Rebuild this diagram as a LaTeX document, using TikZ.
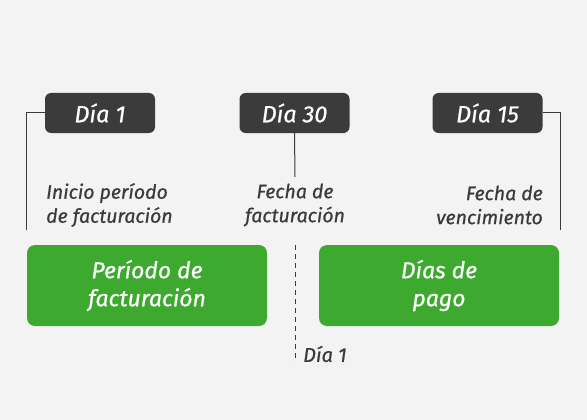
\documentclass[tikz,border=0pt]{standalone}
\usepackage{fontspec}
\setmainfont{Fira Sans}
\newfontfamily\medfont{Fira Sans}[FakeBold=0.7]
\usepackage{tikz}
\usepackage{xcolor}
\usetikzlibrary{positioning,calc}

\definecolor{bggray}{HTML}{F3F3F3}
\definecolor{darkbox}{HTML}{3B3B3B}
\definecolor{txtgray}{HTML}{3A3A3A}
\definecolor{phasegreen}{HTML}{3DAA2F}

\begin{document}
\begin{tikzpicture}[
          x=1pt, y=-1pt,
          daybox/.style={draw=none, fill=darkbox, rounded corners=6pt, minimum width=110pt,
                         minimum height=40pt, text=white, font=\fontsize{23.5}{27}\medfont\itshape},
          phasebox/.style={draw=none, fill=phasegreen, rounded corners=8pt, minimum width=240pt,
                           minimum height=81pt, text=white, align=center,
                           font=\fontsize{23}{28}\medfont\itshape},
          lbl/.style={text=txtgray, font=\fontsize{19.5}{24}\medfont\itshape, inner sep=0pt},
          tick/.style={draw=txtgray, line width=1pt}
      ]
        % background and margins
        \fill[bggray] (0,0) rectangle (587,420);
        \useasboundingbox (0,0) rectangle (587,420);
        % day markers
        \node[daybox] (d1) at (100,113) {Día 1};
        \node[daybox] (d30) at (294.5,113) {Día 30};
        \node[daybox] (d15) at (487.5,113) {Día 15};
        % labels
        \node[lbl, anchor=west, align=left] (l1) at (46,205) {Inicio período\\de facturación};
        \node[lbl, align=center] (l30) at (295,205) {Fecha de\\facturación};
        \node[lbl, anchor=east, align=right] (l15) at (543,205) {Fecha de\\vencimiento};
        % phases
        \node[phasebox] (p1) at (147,285.5) {Período de\\facturación};
        \node[phasebox] (p2) at (439,285.5) {Días de\\pago};
        \node[lbl, anchor=west, font=\fontsize{20}{24}\medfont\itshape] (n1) at (303,354) {Día 1};
        % connectors
        \coordinate (c1) at (26,230);
        \coordinate (c30) at (295,177);
        \coordinate (c15) at (560,230);
        \coordinate (s1) at (295,245);
        \coordinate (s2) at (295,362);
        \draw[tick] (d1.west) -| (c1);
        \draw[tick] (d30.south) -- (c30);
        \draw[tick] (d15.east) -| (c15);
        \draw[tick, dash pattern=on 5pt off 4pt] (s1) -- (s2);
      \end{tikzpicture}
\end{document}
